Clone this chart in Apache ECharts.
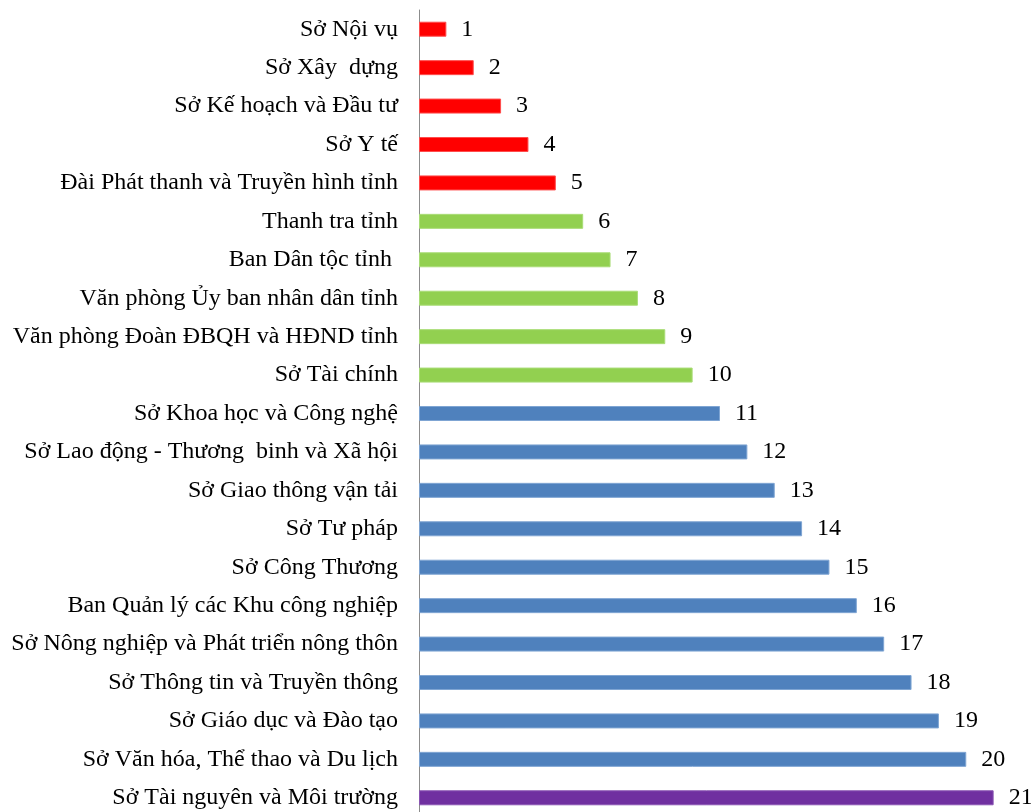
<!DOCTYPE html>
<html>
<head>
<meta charset="utf-8">
<style>
  html, body { margin: 0; padding: 0; background: #ffffff; overflow: hidden; }
  #chart { width: 1031px; height: 817px; }
</style>
<script src="https://cdn.jsdelivr.net/npm/echarts@6/dist/echarts.min.js"></script>
</head>
<body>
<div id="chart"></div>
<script>
// Agencies, ranked top to bottom
const categories = [
  'Sở Nội vụ',
  'Sở Xây  dựng',
  'Sở Kế hoạch và Đầu tư',
  'Sở Y tế',
  'Đài Phát thanh và Truyền hình tỉnh',
  'Thanh tra tỉnh',
  'Ban Dân tộc tỉnh ',
  'Văn phòng Ủy ban nhân dân tỉnh',
  'Văn phòng Đoàn ĐBQH và HĐND tỉnh',
  'Sở Tài chính',
  'Sở Khoa học và Công nghệ',
  'Sở Lao động - Thương  binh và Xã hội',
  'Sở Giao thông vận tải',
  'Sở Tư pháp',
  'Sở Công Thương',
  'Ban Quản lý các Khu công nghiệp',
  'Sở Nông nghiệp và Phát triển nông thôn',
  'Sở Thông tin và Truyền thông',
  'Sở Giáo dục và Đào tạo',
  'Sở Văn hóa, Thể thao và Du lịch',
  'Sở Tài nguyên và Môi trường'
];

// Rank value of each agency
const values = [1, 2, 3, 4, 5, 6, 7, 8, 9, 10, 11, 12, 13, 14, 15, 16, 17, 18, 19, 20, 21];

// Colour group of each bar
const groups = [
  'red', 'red', 'red', 'red', 'red',
  'green', 'green', 'green', 'green', 'green',
  'blue', 'blue', 'blue', 'blue', 'blue', 'blue', 'blue', 'blue', 'blue', 'blue',
  'purple'
];

const palette = {
  red:    { fill: '#FF0000', edge: '#FF4D4D' },
  green:  { fill: '#92D050', edge: '#A9DC76' },
  blue:   { fill: '#4F81BD', edge: '#7FA5D3' },
  purple: { fill: '#7030A0', edge: '#8A55B3' }
};

const chart = echarts.init(document.getElementById('chart'), null, { renderer: 'canvas' });

const font = '"Liberation Serif", "Times New Roman", "DejaVu Serif", serif';

chart.setOption({
  animation: false,
  backgroundColor: '#ffffff',
  grid: { left: 419, right: 10, top: 10, bottom: 0, containLabel: false },
  xAxis: {
    type: 'value',
    min: 0,
    max: 22,
    show: false
  },
  yAxis: {
    type: 'category',
    inverse: true,
    data: categories,
    axisLine: { show: true, lineStyle: { color: '#8C8C8C', width: 1 } },
    axisTick: { show: false },
    axisLabel: {
      color: '#000000',
      fontFamily: font,
      fontSize: 24,
      margin: 21
    },
    splitLine: { show: false }
  },
  series: [{
    type: 'bar',
    barWidth: 15,
    data: values.map((v, i) => ({
      value: v,
      itemStyle: {
        color: palette[groups[i]].fill,
        borderColor: palette[groups[i]].edge,
        borderWidth: 1
      }
    })),
    label: {
      show: true,
      position: 'right',
      distance: 15,
      color: '#000000',
      fontFamily: font,
      fontSize: 24
    }
  }]
});
</script>
</body>
</html>
